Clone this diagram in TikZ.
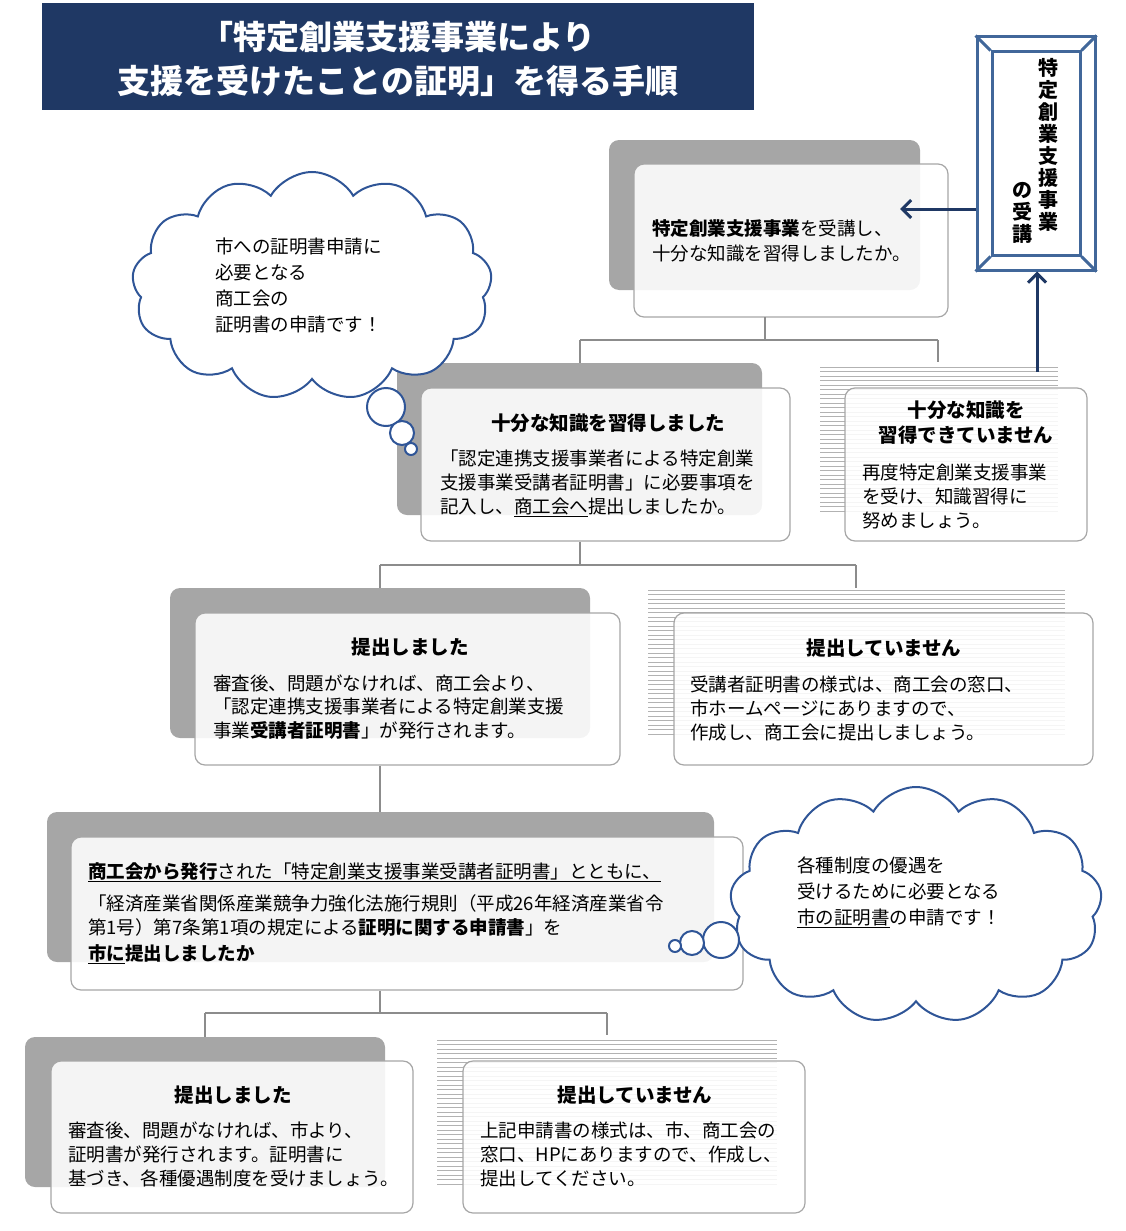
\documentclass[tikz,border=0pt]{standalone}
\usepackage{fontspec}
\setmainfont{Noto Sans CJK JP}
\usetikzlibrary{shapes.symbols,arrows.meta}
\definecolor{navy}{HTML}{1F3864}
\definecolor{bluel}{HTML}{2F5597}
\definecolor{frame}{HTML}{41679A}
\tikzset{
 back/.style={fill=black!35,rounded corners=10pt,inner sep=0,draw=none},
 front/.style={fill=white,fill opacity=0.88,draw=black!35,line width=1.2pt,rounded corners=10pt,inner sep=0},
 conn/.style={draw=black!45,line width=1.3pt},
 txt/.style={anchor=base west,inner sep=0,font=\fontsize{18.5}{22}\selectfont},
 ttl/.style={anchor=base,inner sep=0,font=\fontsize{19.5}{22}\selectfont\bfseries},
 stripe/.style={draw=black!30,line width=0.8pt},
 cloudn/.style={cloud,cloud puffs=13,cloud puff arc=120,aspect=1.5,draw=bluel,line width=2pt,fill=white,inner sep=0},
 bub/.style={circle,draw=bluel,line width=2pt,fill=white,inner sep=0},
 arr/.style={draw=navy,line width=3pt,-{Straight Barb[length=9pt,width=18pt,line width=3pt]}}
}
\newcommand{\stripes}[4]{\pgfmathtruncatemacro\nst{(#4-#2)/4.5}\foreach \i in {0,...,\nst}{\draw[stripe] (#1,{#2+4.5*\i})--(#3,{#2+4.5*\i});}}
\begin{document}
\begin{tikzpicture}[x=1pt,y=-1pt]
\useasboundingbox (0,0) rectangle (1125,1231);
% title
\node[fill=navy,minimum width=712,minimum height=107,inner sep=0] (title) at (398,56.5) {};
\node[anchor=base,text=white,font=\fontsize{33}{36}\selectfont\bfseries,inner sep=0] (t1) at (398,50) {「特定創業支援事業により};
\node[anchor=base,text=white,font=\fontsize{33}{36}\selectfont\bfseries,inner sep=0] (t2) at (398,93) {支援を受けたことの証明」を得る手順};
% vertical box
\node[draw=frame,line width=3pt,minimum width=118,minimum height=233,inner sep=0] (vb) at (1036,153.5) {};
\node[draw=frame,line width=3pt,minimum width=88,minimum height=203,inner sep=0] (vbi) at (1036,153.5) {};
\draw[frame,line width=3pt] (vb.north west)--(vbi.north west) (vb.north east)--(vbi.north east) (vb.south west)--(vbi.south west) (vb.south east)--(vbi.south east);
\node[anchor=north,align=center,inner sep=0,font=\fontsize{20}{22}\selectfont\bfseries] (vc1) at (1048,58) {特\\定\\創\\業\\支\\援\\事\\業};
\node[anchor=south,align=center,inner sep=0,font=\fontsize{20}{22}\selectfont\bfseries] (vc2) at (1022,244) {の\\受\\講};
% card 1
\node[back,minimum width=311,minimum height=150] (c1b) at (764.5,215) {};
\node[front,minimum width=314,minimum height=153] (c1) at (791,240.5) {};
\node[txt] (c1l1) at (652,235) {\textbf{特定創業支援事業}を受講し、};
\node[txt] (c1l2) at (652,260) {十分な知識を習得しましたか。};
\coordinate (a1) at (900,209);
\draw[arr] (vb.west |- a1) -- (a1);
% connector 1
\coordinate (j1) at (765,340);
\coordinate (j1l) at (580,340);
\coordinate (j1r) at (938,340);
\draw[conn] (765,317) -- (j1);
\draw[conn] (j1l) -- (j1r);
% card 2
\node[back,minimum width=365,minimum height=152] (c2b) at (579.5,439) {};
\node[front,minimum width=369,minimum height=153] (c2) at (605.5,464.5) {};
\draw[conn] (j1l) -- (j1l |- c2b.north);
\node[ttl] (c2t) at (608,430) {十分な知識を習得しました};
\node[txt] (c2l1) at (440,465) {「認定連携支援事業者による特定創業};
\node[txt] (c2l2) at (440,489) {支援事業受講者証明書」に必要事項を};
\node[txt] (c2l3) at (440,513) {記入し、\underline{商工会へ}提出しましたか。};
% card 3
\stripes{820}{367}{1058}{515}
\node[front,minimum width=242,minimum height=153] (c3) at (966,464.5) {};
\draw[conn] (j1r) -- (938,362);
\node[ttl] (c3t1) at (966,417) {十分な知識を};
\node[ttl] (c3t2) at (966,442) {習得できていません};
\node[txt] (c3l1) at (862,479) {再度特定創業支援事業};
\node[txt] (c3l2) at (862,503) {を受け、知識習得に};
\node[txt] (c3l3) at (862,527) {努めましょう。};
\coordinate (a2) at (1037,372);
\draw[arr] (a2) -- (a2 |- vb.south);
% cloud 1
\node[cloudn,minimum width=360,minimum height=228] (cl1) at (312,286) {};
\node[bub,minimum size=38] (b11) at (386,407) {};
\node[bub,minimum size=24] (b12) at (402,433) {};
\node[bub,minimum size=12] (b13) at (411,449) {};
\node[txt] (cl1a) at (215,253) {市への証明書申請に};
\node[txt] (cl1b) at (215,279) {必要となる};
\node[txt] (cl1c) at (215,305) {商工会の};
\node[txt] (cl1d) at (215,331) {証明書の申請です！};
% connector 2
\coordinate (j2) at (580,565);
\coordinate (j2l) at (380,565);
\coordinate (j2r) at (856,565);
\draw[conn] (c2.south -| j2) -- (j2);
\draw[conn] (j2l) -- (j2r);
% card 4
\node[back,minimum width=420,minimum height=150] (c4b) at (380,663) {};
\node[front,minimum width=425,minimum height=152] (c4) at (407.5,689) {};
\draw[conn] (j2l) -- (j2l |- c4b.north);
\node[ttl] (c4t) at (410,654) {提出しました};
\node[txt] (c4l1) at (213,690) {審査後、問題がなければ、商工会より、};
\node[txt] (c4l2) at (213,713) {「認定連携支援事業者による特定創業支援};
\node[txt] (c4l3) at (213,737) {事業\textbf{受講者証明書}」が発行されます。};
% card 5
\stripes{648}{590}{1065}{738}
\node[front,minimum width=419,minimum height=152] (c5) at (883.5,689) {};
\draw[conn] (j2r) -- (856,588);
\node[ttl] (c5t) at (884,655) {提出していません};
\node[txt] (c5l1) at (690,691) {受講者証明書の様式は、商工会の窓口、};
\node[txt] (c5l2) at (690,715) {市ホームページにありますので、};
\node[txt] (c5l3) at (690,739) {作成し、商工会に提出しましょう。};
% card 6
\node[back,minimum width=667,minimum height=150] (c6b) at (380.5,887) {};
\node[front,minimum width=672,minimum height=153] (c6) at (407,913.5) {};
\draw[conn] (c4.south -| j2l) -- (j2l |- c6b.north);
\node[txt] (c6l1) at (88,878) {\underline{\textbf{商工会から発行}された「特定創業支援事業受講者証明書」とともに、}};
\node[txt] (c6l2) at (88,910) {「経済産業省関係産業競争力強化法施行規則（平成26年経済産業省令};
\node[txt] (c6l3) at (88,934) {第1号）第7条第1項の規定による\textbf{証明に関する申請書}」を};
\node[txt] (c6l4) at (88,960) {\textbf{\underline{市に}提出しましたか}};
% cloud 2
\node[cloudn,minimum width=372,minimum height=236] (cl2) at (916,905) {};
\node[bub,minimum size=36] (b21) at (721,940) {};
\node[bub,minimum size=24] (b22) at (692,943) {};
\node[bub,minimum size=12] (b23) at (675,946) {};
\node[txt] (cl2a) at (797,872) {各種制度の優遇を};
\node[txt] (cl2b) at (797,898) {受けるために必要となる};
\node[txt] (cl2c) at (797,924) {\underline{市の証明書}の申請です！};
% connector 3
\coordinate (j3) at (380,1013);
\coordinate (j3l) at (205,1013);
\coordinate (j3r) at (607,1013);
\draw[conn] (c6.south -| j3) -- (j3);
\draw[conn] (j3l) -- (j3r);
% card 7
\node[back,minimum width=360,minimum height=150] (c7b) at (205,1112) {};
\node[front,minimum width=362,minimum height=152] (c7) at (232,1137) {};
\draw[conn] (j3l) -- (j3l |- c7b.north);
\node[ttl] (c7t) at (233,1102) {提出しました};
\node[txt] (c7l1) at (68,1137) {審査後、問題がなければ、市より、};
\node[txt] (c7l2) at (68,1161) {証明書が発行されます。証明書に};
\node[txt] (c7l3) at (68,1185) {基づき、各種優遇制度を受けましょう。};
% card 8
\stripes{437}{1040}{777}{1187}
\node[front,minimum width=342,minimum height=152] (c8) at (634,1137) {};
\draw[conn] (j3r) -- (607,1035);
\node[ttl] (c8t) at (635,1102) {提出していません};
\node[txt] (c8l1) at (480,1137) {上記申請書の様式は、市、商工会の};
\node[txt] (c8l2) at (480,1161) {窓口、HPにありますので、作成し、};
\node[txt] (c8l3) at (480,1185) {提出してください。};
\end{tikzpicture}
\end{document}
